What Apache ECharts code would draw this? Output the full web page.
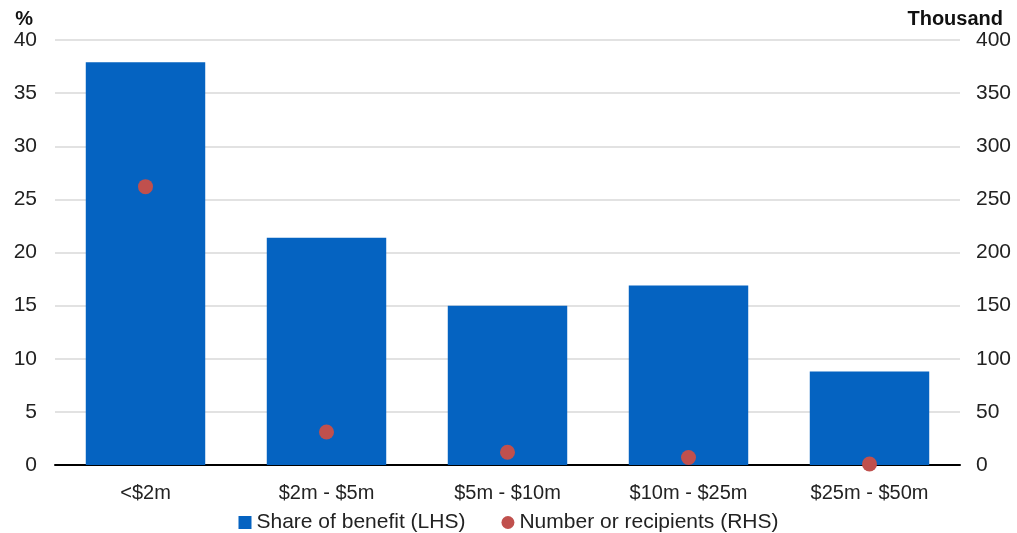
<!DOCTYPE html>
<html>
<head>
<meta charset="utf-8">
<script src="https://cdn.jsdelivr.net/npm/echarts@6/dist/echarts.min.js"></script>
<style>
  html, body { margin: 0; padding: 0; background: #fff; }
  #main { width: 1017px; height: 533px; }
</style>
</head>
<body>
<div id="main"></div>
<script>
const categories = ['<$2m', '$2m - $5m', '$5m - $10m', '$10m - $25m', '$25m - $50m']
const shareOfBenefit = [37.9, 21.4, 15.0, 16.9, 8.8]
const recipients = [262, 31, 12, 7, 1]

const chart = echarts.init(document.getElementById('main'))
const font = 'Liberation Sans, Arial, sans-serif'

chart.setOption({
  animation: false,
  textStyle: { fontFamily: font },
  grid: { left: 55, right: 57, top: 40, bottom: 68 },
  legend: {
    top: 507,
    left: 'center',
    itemGap: 36,
    itemWidth: 13,
    itemHeight: 13,
    textStyle: { fontSize: 21, color: '#222', fontFamily: font },
    data: [
      { name: 'Share of benefit (LHS)', icon: 'rect' },
      { name: 'Number or recipients (RHS)', icon: 'circle' }
    ]
  },
  xAxis: {
    type: 'category',
    data: categories,
    axisLine: { lineStyle: { color: '#000', width: 2 } },
    axisTick: { inside: true, length: 6, lineStyle: { color: '#000', width: 2 } },
    axisLabel: { fontSize: 20, color: '#222', margin: 18 }
  },
  yAxis: [
    {
      type: 'value', min: 0, max: 40, interval: 5,
      name: '%', nameGap: 8,
      nameTextStyle: { fontSize: 20, fontWeight: 'bold', color: '#111', align: 'right', padding: [0, 22, 0, 0] },
      axisLine: { show: false }, axisTick: { show: false },
      axisLabel: { fontSize: 21, color: '#222', margin: 18 },
      splitLine: { lineStyle: { color: '#d9d9d9', width: 1.5 } }
    },
    {
      type: 'value', min: 0, max: 400, interval: 50,
      name: 'Thousand', nameGap: 8,
      nameTextStyle: { fontSize: 20, fontWeight: 'bold', color: '#111', align: 'right', padding: [0, -43, 0, 0] },
      axisLine: { show: false }, axisTick: { show: false },
      axisLabel: { fontSize: 21, color: '#222', margin: 16 },
      splitLine: { show: false }
    }
  ],
  series: [
    {
      name: 'Share of benefit (LHS)',
      type: 'bar',
      data: shareOfBenefit,
      barCategoryGap: '34%',
      itemStyle: { color: '#0563C1' }
    },
    {
      name: 'Number or recipients (RHS)',
      type: 'scatter',
      yAxisIndex: 1,
      data: recipients,
      symbolSize: 15,
      itemStyle: { color: '#C0504D', opacity: 1 }
    }
  ]
})
</script>
</body>
</html>
